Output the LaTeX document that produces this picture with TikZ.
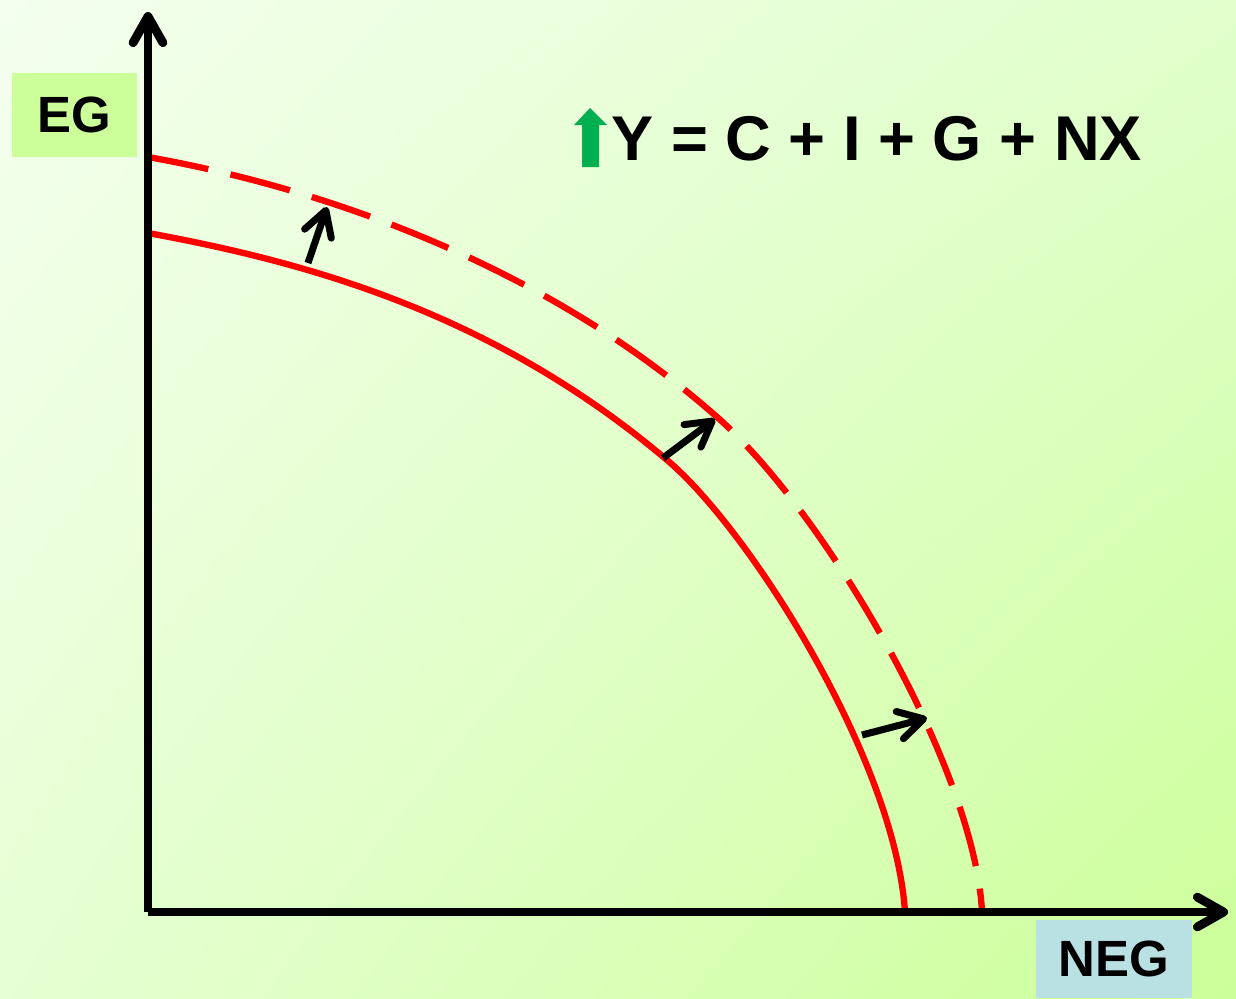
\documentclass[tikz,border=0pt]{standalone}
\usepackage{fontspec}
\setmainfont{Liberation Sans}
\usepackage{xcolor}
\usepackage{tikz}
\usetikzlibrary{arrows.meta,positioning,shadings}
\definecolor{bgtl}{HTML}{F4FFEE}
\definecolor{bgtr}{HTML}{E0FFCB}
\definecolor{bgbl}{HTML}{E6FFD3}
\definecolor{bgbr}{HTML}{CCFF99}
\definecolor{egfill}{HTML}{CCFF99}
\definecolor{negfill}{HTML}{B9E0E3}
\definecolor{upgreen}{HTML}{00B050}
\tikzset{
  axisline/.style={line width=5pt, -{Straight Barb[length=15pt, width=17pt, round]}},
  ppf/.style={red, line width=3.6pt},
  ppfnew/.style={ppf, dash pattern=on 35pt off 13pt},
  shiftarr/.style={line width=4pt, -{Straight Barb[length=14pt, width=16pt, round]}},
  labelbox/.style={inner sep=0pt, font=\fontsize{29pt}{32pt}\selectfont\bfseries},
  eqtext/.style={inner sep=0pt, font=\fontsize{36pt}{40pt}\selectfont\bfseries},
}

\begin{document}
\begin{tikzpicture}[x=0.02cm, y=-0.02cm]
    \useasboundingbox (0,0) rectangle (1236,998);
    \shade[upper left=bgtl, upper right=bgtr, lower left=bgbl, lower right=bgbr] (0,0) rectangle (1236,998);
    \coordinate (O) at (148,912);
    \coordinate (ytop) at (148,12);
    \coordinate (xend) at (1228,912);
    \node[labelbox, fill=egfill, minimum width=2.5cm, minimum height=1.68cm] (eg) at (74.5,115) {EG};
    \node[labelbox, fill=negfill, minimum width=3.12cm, minimum height=1.56cm] (neg) at (1114,959) {NEG};
    \node[eqtext, anchor=base west] (eq) at (611,160) {Y = C + I + G + NX};
    \fill[upgreen] (582,167) -- (582,125) -- (574,125) -- (590,108) -- (607,125) -- (599,125) -- (599,167) -- cycle;
    \draw[ppf] (148,233) .. controls (300,261) and (490,310) .. (667,460)
      .. controls (750,530) and (895,760) .. (905,912);
    \draw[ppfnew] (148,157) .. controls (328,189) and (547,267) .. (717,417)
      .. controls (827,514) and (975,770) .. (982,912);
    \coordinate (a1) at (308,263);
    \coordinate (b1) at (327,207);
    \coordinate (a2) at (663,458);
    \coordinate (b2) at (715,419);
    \coordinate (a3) at (862,735);
    \coordinate (b3) at (927,718);
    \draw[shiftarr] (a1) -- (b1);
    \draw[shiftarr] (a2) -- (b2);
    \draw[shiftarr] (a3) -- (b3);
    \draw[axisline] (O) -- (ytop);
    \draw[axisline] (O) -- (xend);
  \end{tikzpicture}
\end{document}
